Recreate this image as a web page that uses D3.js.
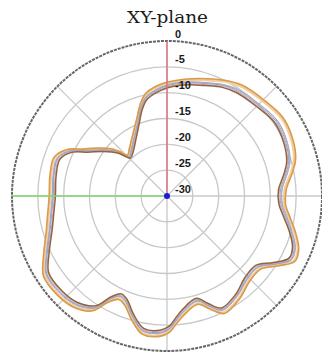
<!DOCTYPE html>
<html>
<head>
<meta charset="utf-8">
<script src="https://cdn.jsdelivr.net/npm/d3@7"></script>
<style>
  html, body { margin: 0; padding: 0; background: #fff; overflow: hidden; }
</style>
</head>
<body>
<svg id="chart" width="322" height="355"></svg>
<script>
// Azimuth angles (degrees, clockwise from the top) where gain is sampled
const angles = [0,5,12,19,27,34,45,56,66,74,79,87,94,100,106,112,117,122,128,136,
  145,154,159,164,172,176,179,183,190,196,201,205,209,213,220,228,237,244,254,261,
  270,280,289,295,299,305,311,313,316,322,332,339,344,348,354];

// Radial ticks (dB)
const dbTicks = [0, -5, -10, -15, -20, -25, -30];

// Gain traces (dB), one per measured frequency
const gainOrange = [-8.0,-7.5,-6.8,-6.0,-4.9,-4.1,-3.6,-2.9,-3.3,-4.1,-5.2,-6.9,-7.0,-5.8,-4.1,-2.5,-2.2,-4.5,-7.0,-7.0,
  -5.6,-4.7,-6.5,-8.2,-6.7,-5.1,-3.6,-2.8,-2.8,-5.1,-7.3,-7.9,-6.5,-3.5,-1.9,-1.4,-1.5,-3.4,-5.7,-6.6,
  -7.2,-7.0,-6.9,-8.7,-11.3,-13.8,-16.2,-17.4,-19.0,-18.2,-16.1,-13.8,-11.4,-9.8,-8.7];
const gainTan = [-8.2,-7.7,-7.0,-6.3,-5.1,-4.4,-3.9,-3.2,-3.6,-4.4,-5.5,-7.2,-7.2,-6.0,-4.3,-2.7,-2.4,-4.7,-7.2,-7.2,
  -5.8,-4.9,-6.7,-8.4,-6.9,-5.3,-3.8,-3.0,-3.0,-5.3,-7.5,-8.1,-6.7,-3.7,-2.1,-1.6,-1.7,-3.6,-5.9,-6.8,
  -7.4,-7.2,-7.1,-8.9,-11.5,-14.0,-16.4,-17.6,-19.1,-18.4,-16.3,-14.0,-11.6,-10.0,-8.9];
const gainLavender = [-8.5,-8.0,-7.4,-6.8,-5.8,-5.2,-4.8,-4.1,-4.5,-5.2,-6.2,-7.7,-7.6,-6.4,-4.8,-3.2,-2.9,-5.1,-7.6,-7.6,
  -6.3,-5.4,-7.1,-8.8,-7.3,-5.7,-4.2,-3.4,-3.4,-5.7,-7.9,-8.5,-7.1,-4.1,-2.5,-2.0,-2.1,-4.0,-6.3,-7.2,
  -7.8,-7.6,-7.5,-9.3,-11.9,-14.4,-16.7,-17.9,-19.4,-18.7,-16.7,-14.4,-12.0,-10.4,-9.3];
const gainGray = [-8.6,-8.1,-7.5,-6.9,-5.9,-5.3,-4.9,-4.2,-4.6,-5.3,-6.3,-7.8,-7.7,-6.5,-4.9,-3.3,-3.0,-5.2,-7.7,-7.7,
  -6.4,-5.5,-7.2,-8.9,-7.4,-5.8,-4.3,-3.5,-3.5,-5.8,-8.0,-8.6,-7.2,-4.2,-2.6,-2.1,-2.2,-4.1,-6.4,-7.3,
  -7.9,-7.7,-7.6,-9.4,-12.0,-14.5,-16.8,-18.0,-19.4,-18.8,-16.8,-14.5,-12.1,-10.5,-9.4];
const gainBlue = [-8.7,-8.2,-7.6,-7.0,-6.0,-5.5,-5.1,-4.4,-4.8,-5.5,-6.5,-8.0,-7.9,-6.7,-5.1,-3.5,-3.1,-5.3,-7.8,-7.8,
  -6.5,-5.6,-7.3,-9.0,-7.5,-5.9,-4.4,-3.6,-3.6,-5.9,-8.1,-8.7,-7.3,-4.3,-2.7,-2.2,-2.3,-4.2,-6.5,-7.4,
  -8.0,-7.8,-7.7,-9.5,-12.1,-14.6,-16.9,-18.1,-19.5,-18.9,-16.9,-14.6,-12.2,-10.6,-9.5];
const gainPink = [-8.9,-8.4,-7.8,-7.2,-6.2,-5.7,-5.3,-4.6,-5.0,-5.7,-6.7,-8.2,-8.1,-6.9,-5.3,-3.7,-3.3,-5.5,-8.0,-8.0,
  -6.6,-5.7,-7.5,-9.2,-7.7,-6.1,-4.6,-3.8,-3.8,-6.1,-8.3,-8.9,-7.5,-4.5,-2.9,-2.4,-2.5,-4.4,-6.7,-7.6,
  -8.2,-8.0,-7.9,-9.7,-12.3,-14.8,-17.1,-18.3,-19.7,-19.1,-17.1,-14.8,-12.4,-10.8,-9.7];
const gainBrown = [-9.1,-8.6,-8.0,-7.4,-6.4,-5.9,-5.5,-4.8,-5.2,-5.9,-6.9,-8.4,-8.3,-7.1,-5.4,-3.8,-3.5,-5.7,-8.2,-8.2,
  -6.8,-5.9,-7.7,-9.4,-7.9,-6.3,-4.8,-4.0,-4.0,-6.3,-8.5,-9.1,-7.7,-4.7,-3.1,-2.6,-2.7,-4.6,-6.9,-7.8,
  -8.4,-8.2,-8.1,-9.9,-12.5,-15.0,-17.3,-18.5,-19.8,-19.3,-17.3,-15.0,-12.6,-11.0,-9.9];

const traces = [
  { values: gainTan,      color: "#f2cf9c", width: 2.6 },
  { values: gainLavender, color: "#a198cc", width: 1.0 },
  { values: gainGray,     color: "#b4b0aa", width: 1.0 },
  { values: gainBlue,     color: "#88a8d8", width: 1.0 },
  { values: gainPink,     color: "#dca2b2", width: 1.0 },
  { values: gainOrange,   color: "#d99a4e", width: 1.6 },
  { values: gainBrown,    color: "#8e653e", width: 1.5 }
];

const cx = 167, cy = 196, R = 155;
const svg = d3.select("#chart");
const r = d3.scaleLinear().domain([-30, 0]).range([0, R]);
const rad = d => d * Math.PI / 180;

const g = svg.append("g").attr("transform", `translate(${cx},${cy})`);

// Inner grid rings
g.selectAll("circle.ring")
  .data(dbTicks.filter(d => d < 0 && d > -30))
  .join("circle")
  .attr("class", "ring")
  .attr("r", d => r(d))
  .attr("fill", "none")
  .attr("stroke", "#c8c8c8")
  .attr("stroke-width", 1.3);

// Spokes every 45 degrees
g.selectAll("line.spoke")
  .data(d3.range(0, 360, 45))
  .join("line")
  .attr("class", "spoke")
  .attr("x1", 0).attr("y1", 0)
  .attr("x2", d => r(0) * Math.sin(rad(d)))
  .attr("y2", d => -r(0) * Math.cos(rad(d)))
  .attr("stroke", "#c8c8c8")
  .attr("stroke-width", 1.3);

// Outer 0 dB boundary
g.append("circle")
  .attr("r", r(0))
  .attr("fill", "none")
  .attr("stroke", "#666")
  .attr("stroke-width", 2)
  .attr("stroke-dasharray", "3,1");

// Gain traces
const line = d3.lineRadial()
  .angle((d, i) => rad(angles[i]))
  .radius(d => r(d))
  .curve(d3.curveCatmullRomClosed.alpha(0.5));

g.selectAll("path.trace")
  .data(traces)
  .join("path")
  .attr("class", "trace")
  .attr("d", d => line(d.values))
  .attr("fill", "none")
  .attr("stroke", d => d.color)
  .attr("stroke-width", d => d.width)
  .attr("stroke-linejoin", "round");

// Reference axes: 0° (red) and 270° (green)
g.append("line")
  .attr("x1", 0).attr("y1", 0)
  .attr("x2", 0).attr("y2", -r(0))
  .attr("stroke", "#e06a78").attr("stroke-width", 1.4);
g.append("line")
  .attr("x1", 0).attr("y1", 0)
  .attr("x2", -r(0)).attr("y2", 0)
  .attr("stroke", "#7ed86e").attr("stroke-width", 1.6);

// Centre marker
g.append("circle").attr("r", 3).attr("fill", "#1a1ad8");

// Radial tick labels
g.selectAll("text.tick")
  .data(dbTicks)
  .join("text")
  .attr("class", "tick")
  .attr("x", 8)
  .attr("y", d => -r(d) - 3.5)
  .attr("font-family", "Liberation Sans, Arial, sans-serif")
  .attr("font-weight", "bold")
  .attr("font-size", 11)
  .attr("fill", "#1a1a1a")
  .text(d => d);

// Title
svg.append("text")
  .attr("x", 167.5)
  .attr("y", 23)
  .attr("text-anchor", "middle")
  .attr("font-family", "DejaVu Serif, serif")
  .attr("font-size", 17)
  .attr("textLength", 81)
  .attr("lengthAdjust", "spacingAndGlyphs")
  .attr("fill", "#1a1a1a")
  .text("XY-plane");
</script>
</body>
</html>
